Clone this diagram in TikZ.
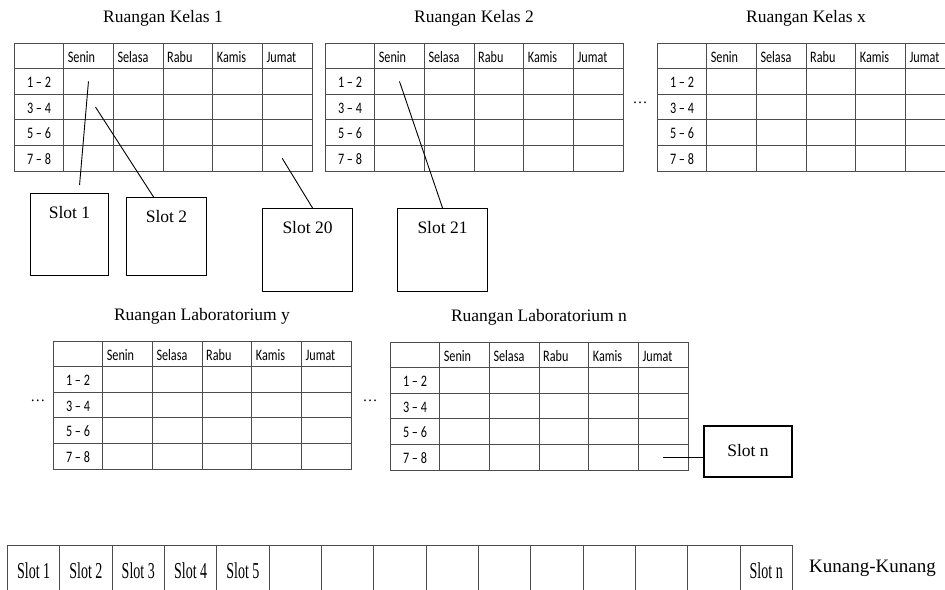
\documentclass[tikz,border=0pt]{standalone}
\usepackage{fontspec}
\usepackage{graphicx}
\setmainfont{Liberation Serif}
\newfontfamily\tabfont{Carlito}
\usetikzlibrary{positioning}

% condensed text for the timetables and the strip
\newcommand{\sempit}[1]{\scalebox{0.76}[1]{#1}}
\newcommand{\tinggi}[1]{\scalebox{0.8}[1.3]{#1}}

\tikzset{
	grid line/.style={line width=0.9pt, draw=black!70},
	day label/.style={font=\tabfont\fontsize{16}{16}\selectfont, anchor=base west, inner sep=0pt},
	hour label/.style={font=\tabfont\fontsize{16}{16}\selectfont, anchor=base, inner sep=0pt},
	room title/.style={font=\fontsize{17.5}{21}\selectfont, inner sep=0pt},
	slot box/.style={draw, line width=1.1pt, anchor=north west, inner sep=0pt},
	slot text/.style={font=\fontsize{17.5}{21}\selectfont, inner sep=0pt, anchor=north},
	strip cell/.style={draw, grid line, anchor=north west, minimum width=52.33pt, minimum height=50pt, inner sep=0pt, font=\fontsize{17.5}{21}\selectfont},
	link/.style={line width=0.9pt},
	dots/.style={font=\fontsize{15}{15}\selectfont, inner sep=0pt}
}

% timetable: #1 name, #2 left, #3 top, #4 title
\newcommand{\jadwal}[4]{
	\node[room title] (#1-title) at (#2+149,#3-25) {#4};
	\draw[grid line] (#2,#3) rectangle ++(298,128);
	\foreach \i in {1,...,5}
		\draw[grid line] (#2+\i*49.67,#3) -- ++(0,128);
	\foreach \j in {1,...,4}
		\draw[grid line] (#2,#3+\j*25.6) -- ++(298,0);
	\foreach \d [count=\i] in {Senin,Selasa,Rabu,Kamis,Jumat}
		\node[day label] (#1-h\i) at (#2+\i*49.67+4,#3+19) {\sempit{\d}};
	\foreach \h [count=\j] in {1 – 2,3 – 4,5 – 6,7 – 8}
		\node[hour label] (#1-r\j) at (#2+25,#3+\j*25.6+19) {\sempit{\h}};
	\foreach \c in {1,...,5}
		\foreach \r in {1,...,4}
			\coordinate (#1-\c-\r) at (#2+\c*49.67+24.8,#3+\r*25.6+12.8);
}

\begin{document}
\begin{tikzpicture}[x=1pt, y=-1pt]
	\useasboundingbox (0,0) rectangle (945,589);
	\clip (0,0) rectangle (945,589);
	\fill[white] (0,0) rectangle (945,589);

	% class rooms
	\jadwal{k1}{14}{43}{Ruangan Kelas 1}
	\jadwal{k2}{325}{43}{Ruangan Kelas 2}
	\jadwal{kx}{657}{43}{Ruangan Kelas x}
	\node[dots] (dots1) at (640,103) {\dots};

	% laboratories
	\jadwal{ly}{53}{341}{Ruangan Laboratorium y}
	\jadwal{ln}{390}{342}{Ruangan Laboratorium n}
	\node[dots] (dots2) at (38,401) {\dots};
	\node[dots] (dots3) at (370,401) {\dots};

	% slots taken from the timetables
	\node[slot box, minimum width=78pt, minimum height=82pt] (s1) at (30,193) {};
	\node[slot text] (s1-text) at ([yshift=-13pt]s1.north) {Slot 1};
	\node[slot box, minimum width=80pt, minimum height=78pt] (s2) at (126,197) {};
	\node[slot text] (s2-text) at ([yshift=-13pt]s2.north) {Slot 2};
	\node[slot box, minimum width=90pt, minimum height=83pt] (s20) at (262,208) {};
	\node[slot text] (s20-text) at ([yshift=-13pt]s20.north) {Slot 20};
	\node[slot box, minimum width=90pt, minimum height=83pt] (s21) at (397,208) {};
	\node[slot text] (s21-text) at ([yshift=-13pt]s21.north) {Slot 21};
	\node[slot box, anchor=center, minimum width=88pt, minimum height=51pt,
		font=\fontsize{17.5}{21}\selectfont] (sn) at (748,451.5) {\raisebox{3pt}{Slot n}};

	\draw[link] (k1-1-1) -- ([xshift=10pt, yshift=8pt]s1.north);
	\draw[link] ([xshift=7pt]k1-1-2) -- ([xshift=-13pt]s2.north);
	\draw[link] ([xshift=-5pt]k1-5-4) -- ([xshift=5pt]s20.north);
	\draw[link] (k2-1-1) -- (s21.north);
	\draw[link] (ln-5-4) -- (ln-5-4 -| sn.west);

	% kunang-kunang strip
	\foreach \t [count=\i] in {Slot 1,Slot 2,Slot 3,Slot 4,Slot 5,,,,,,,,,,Slot n}
		\node[strip cell] (q\i) at (7+\i*52.33-52.33,545) {\tinggi{\t}};
	\node[font=\fontsize{19}{21}\selectfont, anchor=west, inner sep=0pt] (kk) at (809,568) {Kunang-Kunang};
\end{tikzpicture}
\end{document}
